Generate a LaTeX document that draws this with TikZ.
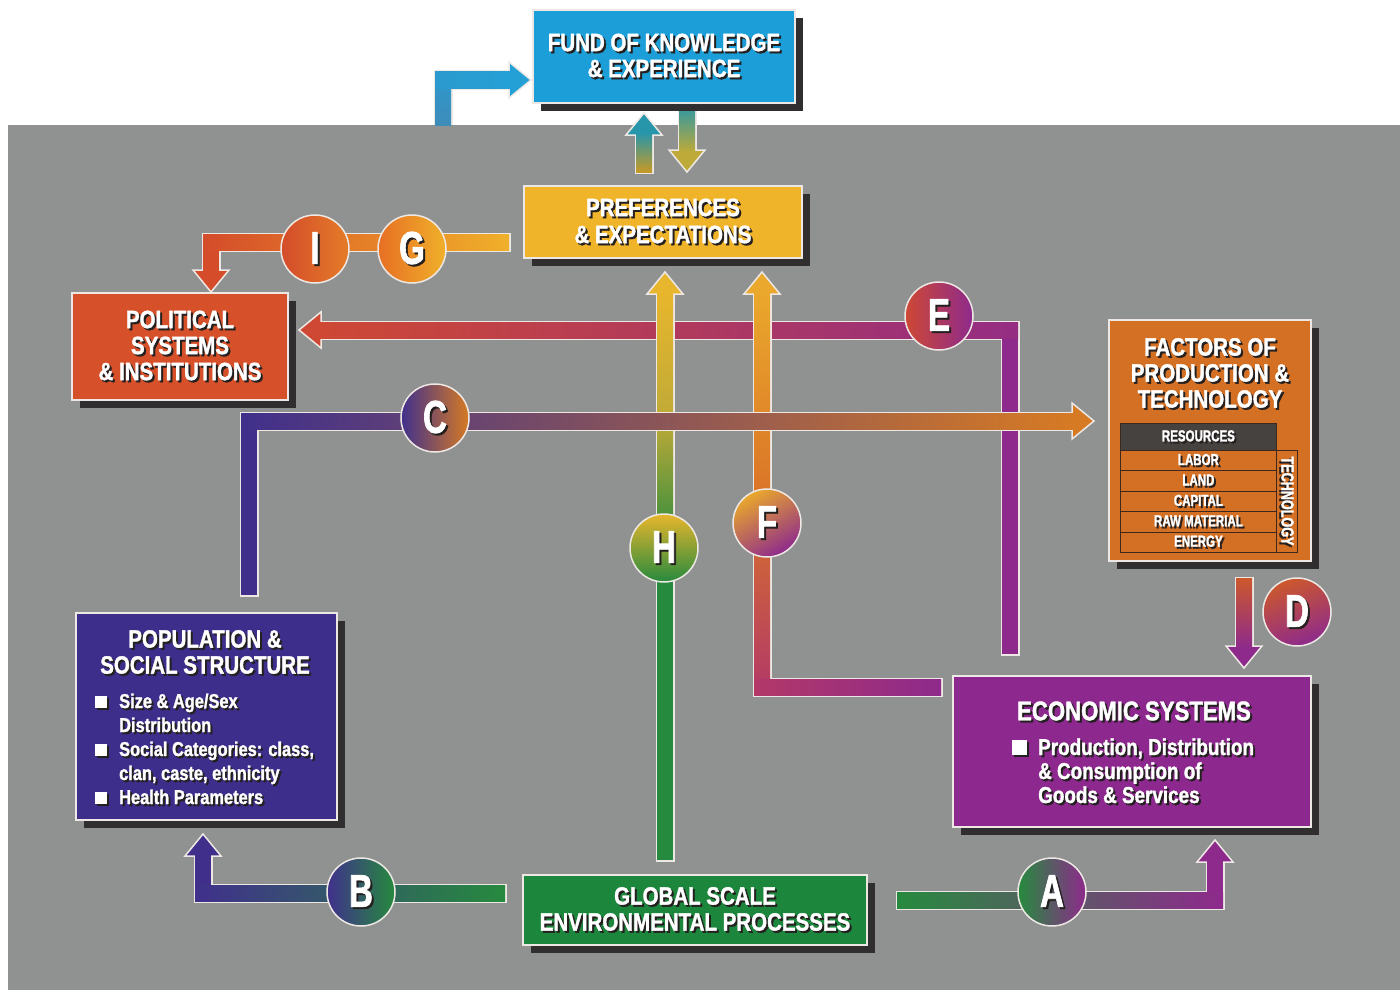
\documentclass[tikz,border=0pt]{standalone}
\usepackage{fontspec}
\setmainfont{Liberation Sans}
\newfontfamily\mf{Liberation Sans Bold}[FakeStretch=0.82, FakeBold=1.4]
\newfontfamily\nf{Liberation Sans Bold}[FakeStretch=0.72, FakeBold=1.4]
\usetikzlibrary{calc,shadows}

\definecolor{bgc}{RGB}{143,146,145}
\definecolor{outl}{RGB}{238,232,228}
\definecolor{shc}{RGB}{48,46,46}
\definecolor{txsh}{RGB}{36,32,32}
\definecolor{fundc}{RGB}{28,158,216}
\definecolor{prefc}{RGB}{240,180,42}
\definecolor{polc}{RGB}{214,80,42}
\definecolor{facc}{RGB}{212,112,36}
\definecolor{popc}{RGB}{62,46,140}
\definecolor{ecoc}{RGB}{140,40,142}
\definecolor{globc}{RGB}{28,134,60}
\definecolor{resc}{RGB}{70,66,64}
\definecolor{tabl}{RGB}{60,40,30}
\definecolor{cRed}{RGB}{206,72,52}
\definecolor{cPur}{RGB}{142,42,140}
\definecolor{cInd}{RGB}{64,48,140}
\definecolor{cOra}{RGB}{214,122,36}
\definecolor{cGre}{RGB}{38,138,62}
\definecolor{cYel}{RGB}{232,182,44}
\definecolor{cMag}{RGB}{178,56,104}
\definecolor{cOrF}{RGB}{218,116,40}
\definecolor{cYeF}{RGB}{234,168,44}
\definecolor{cTea}{RGB}{40,150,170}
\definecolor{cSte}{RGB}{62,140,186}
\definecolor{cCya}{RGB}{36,160,214}
\definecolor{cIGr}{RGB}{212,76,42}
\definecolor{cIGm}{RGB}{228,124,40}
\definecolor{cIGy}{RGB}{240,176,42}
\definecolor{cDor}{RGB}{204,88,44}
\definecolor{cOli}{RGB}{190,170,56}

\newcommand\st[1]{\leavevmode\rlap{\kern2pt\raisebox{-2pt}{\textcolor{txsh}{#1}}}#1}
\newcommand\tfont[2]{\mf\fontsize{#1}{#2}\selectfont}
\newcommand\nfont[2]{\nf\fontsize{#1}{#2}\selectfont}
\newcommand\bsq[1]{\rule{#1pt}{#1pt}}

\newcommand\hup[2]{\filldraw[hd,fill=#2] ($(#1)+(-18,22)$) -- (#1) -- ($(#1)+(18,22)$) -- cycle;}
\newcommand\hdn[2]{\filldraw[hd,fill=#2] ($(#1)+(-18,-22)$) -- (#1) -- ($(#1)+(18,-22)$) -- cycle;}
\newcommand\hlt[2]{\filldraw[hd,fill=#2] ($(#1)+(22,-18)$) -- (#1) -- ($(#1)+(22,18)$) -- cycle;}
\newcommand\hrt[2]{\filldraw[hd,fill=#2] ($(#1)+(-22,-18)$) -- (#1) -- ($(#1)+(-22,18)$) -- cycle;}

\tikzset{
  bo/.style={draw=outl, line width=19pt, line join=miter},
  hd/.style={draw=outl, line width=1.5pt, line join=miter},
  box/.style={rectangle, draw=outl, line width=1.5pt, inner sep=0pt, text=white, align=center,
    drop shadow={shadow xshift=8pt, shadow yshift=-8pt, fill=shc, opacity=1}},
  circ/.style={circle, minimum size=68pt, inner sep=0pt, draw=outl, line width=1.5pt, text=white,
    font={\nfont{46}{46}}},
  txt/.style={inner sep=0pt, text=white},
  cell/.style={draw=tabl, line width=0.8pt, inner sep=0pt, text=white, anchor=north west,
    minimum width=156pt, minimum height=20.4pt, font={\nfont{16}{16}}},
}

\begin{document}
\begin{tikzpicture}[x=1pt,y=-1pt]
\useasboundingbox (0,0) rectangle (1400,990);
\fill[white] (0,0) rectangle (1400,990);
\fill[bgc] (8,125) rectangle (1400,990);

% ---------- connector end points and bends ----------
\coordinate (TLa) at (443,125);  \coordinate (TLb) at (443,80);  \coordinate (TLh) at (531,80);
\coordinate (UPa) at (644,172);  \coordinate (UPh) at (644,113);
\coordinate (DNa) at (687,104);  \coordinate (DNh) at (687,172);
\coordinate (IGa) at (509,242);  \coordinate (IGb) at (211,242); \coordinate (IGh) at (211,292);
\coordinate (Ea) at (1010,654);  \coordinate (Eb) at (1010,330); \coordinate (Eh) at (299,330);
\coordinate (Ha) at (665,860);   \coordinate (Hm) at (665,548);  \coordinate (Hh) at (665,272);
\coordinate (Fa) at (941,687);   \coordinate (Fb) at (762,687);  \coordinate (Fh) at (762,272);
\coordinate (Ca) at (249,595);   \coordinate (Cb) at (249,421);  \coordinate (Ch) at (1094,421);
\coordinate (Da) at (1244,578);  \coordinate (Dh) at (1244,668);
\coordinate (Ba) at (505,893);   \coordinate (Bb) at (203,893);  \coordinate (Bh) at (203,834);
\coordinate (Aa) at (897,900);   \coordinate (Ab) at (1215,900); \coordinate (Ah) at (1215,840);

% ---------- connectors ----------
% to fund of knowledge
\draw[bo] (TLa) -- (TLb) -- ($(TLh)+(-22,0)$);
\hrt{TLh}{cCya}
\fill[bottom color=cSte, top color=cCya!70!cSte] ($(TLa)+(-8,0)$) rectangle ($(TLb)+(8,-8)$);
\fill[left color=cCya!70!cSte, right color=cCya] ($(TLb)+(-8,-8)$) rectangle ($(TLh)+(-20,8)$);

% preferences <-> fund
\draw[bo, shorten <=-1.5pt] (UPa) -- ($(UPh)+(0,22)$);
\hup{UPh}{cTea}
\fill[bottom color=cYel!85!black, top color=cTea] ($(UPa)+(-8,0)$) rectangle ($(UPh)+(8,20)$);
\draw[bo] (DNa) -- ($(DNh)+(0,-22)$);
\hdn{DNh}{cOli}
\fill[top color=cTea, bottom color=cOli] ($(DNa)+(-8,0)$) rectangle ($(DNh)+(8,-20)$);

% G / I
\draw[bo, shorten <=-1.5pt] (IGa) -- (IGb) -- ($(IGh)+(0,-22)$);
\hdn{IGh}{cIGr}
\fill[cIGr] ($(IGb)+(-8,0)$) rectangle ($(IGh)+(8,-20)$);
\fill[left color=cIGr, right color=cIGy, middle color=cIGm] ($(IGb)+(-8,-8)$) rectangle ($(IGa)+(0,8)$);

% E
\draw[bo, shorten <=-1.5pt] (Ea) -- (Eb) -- ($(Eh)+(22,0)$);
\hlt{Eh}{cRed}
\fill[cPur] ($(Ea)+(-8,0)$) rectangle ($(Eb)+(8,-8)$);
\fill[left color=cRed, right color=cPur!90!cRed] ($(Eh)+(20,-8)$) rectangle ($(Eb)+(8,8)$);

% H
\draw[bo, shorten <=-1.5pt] (Ha) -- ($(Hh)+(0,22)$);
\hup{Hh}{cYel}
\fill[cGre] ($(Ha)+(-8,0)$) rectangle ($(Hm)+(8,0)$);
\fill[bottom color=cGre, top color=cYel, middle color=cOli] ($(Hm)+(-8,0)$) rectangle ($(Hh)+(8,20)$);

% F
\draw[bo, shorten <=-1.5pt] (Fa) -- (Fb) -- ($(Fh)+(0,22)$);
\hup{Fh}{cYeF}
\fill[bottom color=cMag, top color=cYeF, middle color=cOrF] ($(Fb)+(-8,8)$) rectangle ($(Fh)+(8,20)$);
\fill[left color=cMag, right color=cPur] ($(Fb)+(-8,-8)$) rectangle ($(Fa)+(0,8)$);

% C
\draw[bo, shorten <=-1.5pt] (Ca) -- (Cb) -- ($(Ch)+(-22,0)$);
\hrt{Ch}{cOra}
\fill[cInd] ($(Ca)+(-8,0)$) rectangle ($(Cb)+(8,-8)$);
\fill[left color=cInd, right color=cOra] ($(Cb)+(-8,-8)$) rectangle ($(Ch)+(-20,8)$);

% D
\draw[bo, shorten <=-1.5pt] (Da) -- ($(Dh)+(0,-22)$);
\hdn{Dh}{cPur}
\fill[top color=cDor, bottom color=cPur] ($(Da)+(-8,0)$) rectangle ($(Dh)+(8,-20)$);

% B
\draw[bo, shorten <=-1.5pt] (Ba) -- (Bb) -- ($(Bh)+(0,22)$);
\hup{Bh}{cInd}
\fill[cInd] ($(Bb)+(-8,8)$) rectangle ($(Bh)+(8,20)$);
\fill[left color=cInd, right color=cGre] ($(Bb)+(-8,-8)$) rectangle ($(Ba)+(0,8)$);

% A
\draw[bo, shorten <=-1.5pt] (Aa) -- (Ab) -- ($(Ah)+(0,22)$);
\hup{Ah}{cPur}
\fill[cPur] ($(Ab)+(-8,8)$) rectangle ($(Ah)+(8,20)$);
\fill[left color=cGre, right color=cPur] ($(Aa)+(0,-8)$) rectangle ($(Ab)+(8,8)$);

% ---------- boxes ----------
\node[box, fill=fundc, minimum width=262pt, minimum height=93pt, font={\tfont{25}{26}}] (fund) at (664,56.5)
  {\st{FUND OF KNOWLEDGE}\\\st{\& EXPERIENCE}};
\node[box, fill=prefc, minimum width=278pt, minimum height=72pt, font={\tfont{25}{27}}] (pref) at (663,222)
  {\st{PREFERENCES}\\\st{\& EXPECTATIONS}};
\node[box, fill=polc, minimum width=216pt, minimum height=107pt, font={\tfont{25}{26}}] (pol) at (180,346.5)
  {\st{POLITICAL}\\\st{SYSTEMS}\\\st{\& INSTITUTIONS}};
\node[box, fill=facc, minimum width=202pt, minimum height=241pt] (fac) at (1210,440.5) {};
\node[box, fill=popc, minimum width=261pt, minimum height=207pt] (pop) at (206.5,716.5) {};
\node[box, fill=ecoc, minimum width=358pt, minimum height=151pt] (eco) at (1132,751.5) {};
\node[box, fill=globc, minimum width=344pt, minimum height=70pt, font={\tfont{25}{26}}] (glob) at (695,910)
  {\st{GLOBAL SCALE}\\\st{ENVIRONMENTAL PROCESSES}};

% factors of production
\node[txt, align=center, font={\tfont{25}{26}}] (factit) at (1210,374)
  {\st{FACTORS OF}\\\st{PRODUCTION \&}\\\st{TECHNOLOGY}};
\node[cell, fill=resc, minimum height=27pt] (res) at (1120,423) {\st{RESOURCES}};
\node[cell] (labor) at (1120,450) {\st{LABOR}};
\node[cell] (land) at (1120,470.4) {\st{LAND}};
\node[cell] (capital) at (1120,490.8) {\st{CAPITAL}};
\node[cell] (raw) at (1120,511.2) {\st{RAW MATERIAL}};
\node[cell] (energy) at (1120,531.6) {\st{ENERGY}};
\node[cell, minimum width=102pt, minimum height=21pt, rotate=-90, anchor=center, font={\nfont{17.5}{17.5}}] (tech) at (1286.5,501) {\st{TECHNOLOGY}};

% population
\node[txt, align=center, font={\tfont{25}{26}}] (poptit) at (205,653)
  {\st{POPULATION \&}\\\st{SOCIAL STRUCTURE}};
\node[txt, anchor=base west, font={\tfont{20}{24}}] (poplist) at (95,708) {%
  \begin{tabular}[t]{@{}l@{\hspace{12pt}}l@{}}
  \st{\bsq{12}} & \st{Size \& Age/Sex}\\
   & \st{Distribution}\\
  \st{\bsq{12}} & \st{Social Categories: class,}\\
   & \st{clan, caste, ethnicity}\\
  \st{\bsq{12}} & \st{Health Parameters}
  \end{tabular}};

% economic
\node[txt, font={\tfont{27}{28}}] (ecotit) at (1134,712) {\st{ECONOMIC SYSTEMS}};
\node[txt, anchor=base west, font={\tfont{23}{24}}] (ecolist) at (1012,755) {%
  \begin{tabular}[t]{@{}l@{\hspace{11pt}}l@{}}
  \st{\bsq{15}} & \st{Production, Distribution}\\
   & \st{\& Consumption of}\\
   & \st{Goods \& Services}
  \end{tabular}};

% ---------- circles ----------
\node[circ, left color=cIGr, right color=cIGm] (cI) at (315,249) {\st{I}};
\node[circ, left color=cIGm!90!red, right color=cIGy] (cG) at (412,249) {\st{G}};
\node[circ, left color=cRed, right color=cPur] (cE) at (939,316) {\st{E}};
\node[circ, left color=cInd, right color=cOra] (cC) at (435,418) {\st{C}};
\node[circ, top color=cYel, bottom color=cGre] (cH) at (664,548) {\st{H}};
\node[circ, top color=cYeF, bottom color=cPur, shading angle=30] (cF) at (767,523) {\st{F}};
\node[circ, top color=cDor, bottom color=cPur, shading angle=20] (cD) at (1297,612) {\st{D}};
\node[circ, left color=cInd, right color=cGre] (cB) at (361,892) {\st{B}};
\node[circ, left color=cGre, right color=cPur] (cA) at (1052,892) {\st{A}};
\end{tikzpicture}
\end{document}
